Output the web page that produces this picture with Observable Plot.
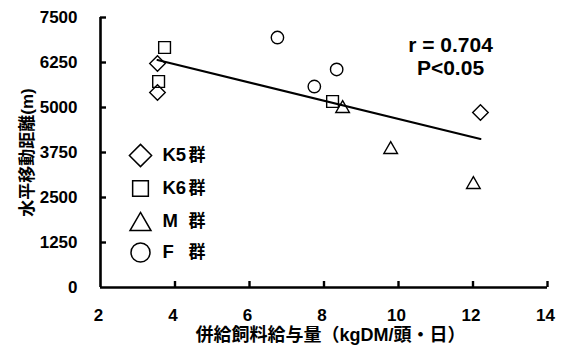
<!DOCTYPE html>
<html><head><meta charset="utf-8">
<script src="https://cdn.jsdelivr.net/npm/d3@7"></script>
<script src="https://cdn.jsdelivr.net/npm/@observablehq/plot@0.6"></script>
<style>body{margin:0;background:#fff}</style>
</head><body><div id="chart"></div>
<script>
// data
const group = ["K5","K5","K5","K6","K6","K6","M","M","M","F","F","F"];
const feed = [3.53,3.53,12.2,3.72,3.56,8.23,8.5,9.79,12.01,6.75,8.34,7.74];
const distance = [6222,5417,4861,6667,5722,5167,4972,3833,2861,6944,6056,5583];
const groupNames = ["K5","K6","M","F"];
const legendPrefix = ["K5","K6","M","F"];
const legendSuffix = ["群","群","群","群"];
const xTicks = [2,4,6,8,10,12,14];
const yTicks = [0,1250,2500,3750,5000,6250,7500];
const xLabel = "併給飼料給与量（kgDM/頭・日）";
const yLabel = "水平移動距離(m)";
const annot = ["r = 0.704","P<0.05"];

const data = group.map((g,i)=>({group:g, x:feed[i], y:distance[i]}));
const symbols = {K5:"diamond2", K6:"square2", M:"triangle2", F:"circle"};
const sizes = {K5:7, K6:7.5, M:6.5, F:6.2};
const legendR = {K5:10, K6:10, M:10, F:9.5};
const legendDotDy = [138,171,207,235];
const legendTextDy = [138,171,204,235];
const FONT = '"Liberation Sans", Arial, "Noto Sans CJK JP", sans-serif';
const fmt = d => String(d);

const marks = [
  Plot.ruleX([2], {y1:0, y2:7500, strokeWidth:2.6}),
  Plot.ruleY([0], {x1:2, x2:14, strokeWidth:2.6}),
  Plot.axisY(yTicks.slice(1), {tickSize:6, dx:6, strokeWidth:2.4, tickFormat:()=>"", label:null}),
  Plot.axisX(xTicks.slice(1), {tickSize:6, dy:-6, strokeWidth:2.4, tickFormat:()=>"", label:null}),
  Plot.axisY(yTicks, {tickSize:0, tickPadding:23, fontSize:17, fontWeight:"bold", tickFormat:fmt, label:null}),
  Plot.axisX(xTicks, {tickSize:0, tickPadding:21, dx:-2, fontSize:17, fontWeight:"bold", tickFormat:fmt, label:null}),
  Plot.linearRegressionY(data, {x:"x", y:"y", stroke:"black", strokeWidth:2, ci:0}),
  ...groupNames.map(g => Plot.dot(data.filter(d=>d.group===g), {x:"x", y:"y", symbol:()=>symbols[g], r:sizes[g], stroke:"black", strokeWidth:1.4, fill:"none"})),
  Plot.text([annot[0]], {frameAnchor:"top-right", dx:-97, dy:28, textAnchor:"middle", lineAnchor:"middle", fontSize:21, fontWeight:"bold"}),
  Plot.text([annot[1]], {frameAnchor:"top-right", dx:-97, dy:50.5, textAnchor:"middle", lineAnchor:"middle", fontSize:21, fontWeight:"bold"}),
  Plot.text([xLabel], {frameAnchor:"bottom", dx:6.5, dy:48, textAnchor:"middle", lineAnchor:"middle", fontSize:18, fontWeight:"bold", letterSpacing:"0.5px"}),
  Plot.text([yLabel], {frameAnchor:"left", dx:-73, rotate:-90, textAnchor:"middle", lineAnchor:"middle", fontSize:17, fontWeight:"bold"}),
  ...groupNames.flatMap((g,i) => [
    Plot.dot([0], {frameAnchor:"top-left", dx:40, dy:legendDotDy[i], symbol:symbols[g], r:legendR[g], stroke:"black", strokeWidth:1.5, fill:"none"}),
    Plot.text([legendPrefix[i]], {frameAnchor:"top-left", dx:62, dy:legendTextDy[i], textAnchor:"start", lineAnchor:"middle", fontSize:18.5, fontWeight:"bold"}),
    Plot.text([legendSuffix[i]], {frameAnchor:"top-left", dx:105, dy:legendTextDy[i], textAnchor:"end", lineAnchor:"middle", fontSize:17, fontWeight:"bold"})
  ])
];

const chart = Plot.plot({
  width:563, height:351,
  marginLeft:100, marginRight:16, marginTop:17, marginBottom:64,
  x:{domain:[2,14]},
  y:{domain:[0,7500]},
  style:{fontFamily:FONT, fontWeight:"bold", fontSize:"17px", background:"#fff", color:"#000", overflow:"visible"},
  marks
});
document.getElementById("chart").appendChild(chart);
</script>
</body></html>
